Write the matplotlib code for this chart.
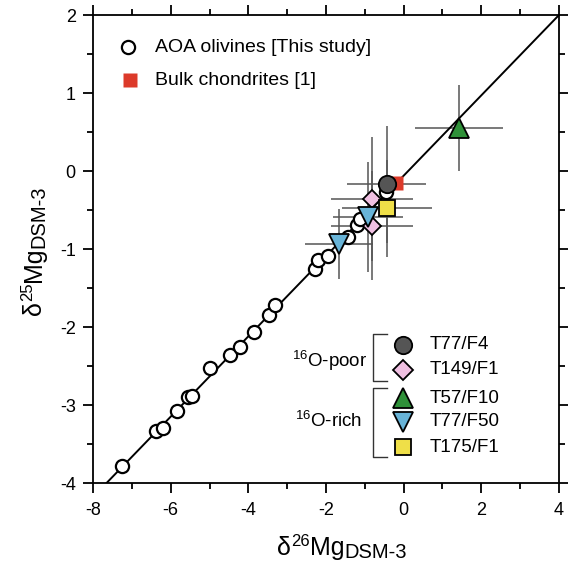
import matplotlib
matplotlib.use("Agg")
import matplotlib.pyplot as plt
from matplotlib.ticker import MultipleLocator

plt.rcParams['font.family'] = ['Liberation Sans', 'DejaVu Sans']
plt.rcParams['mathtext.fontset'] = 'custom'
plt.rcParams['mathtext.rm'] = 'Liberation Sans'
plt.rcParams['mathtext.it'] = 'Liberation Sans:italic'
plt.rcParams['mathtext.bf'] = 'Liberation Sans:bold'
plt.rcParams['axes.unicode_minus'] = False

# ---- data ----
aoa_d26 = [-7.26, -6.39, -6.19, -5.84, -5.56, -5.46, -5.00, -4.47, -4.21, -3.85,
           -3.46, -3.31, -2.28, -2.20, -1.95, -1.43, -1.20, -1.12, -0.45]
aoa_d25 = [-3.78, -3.33, -3.29, -3.08, -2.90, -2.89, -2.52, -2.36, -2.26, -2.06,
           -1.85, -1.72, -1.25, -1.14, -1.09, -0.85, -0.69, -0.62, -0.27]

bulk_d26 = [-0.20]
bulk_d25 = [-0.15]

# T77/F4
f4_d26 = [-0.44]; f4_d25 = [-0.17]; f4_xerr = [1.02]; f4_yerr = [0.75]
# T149/F1
f149_d26 = [-0.82, -0.82]; f149_d25 = [-0.36, -0.70]; f149_xerr = [1.05, 1.06]; f149_yerr = [0.80, 0.70]
# T57/F10
f57_d26 = [1.43]; f57_d25 = [0.55]; f57_xerr = [1.14]; f57_yerr = [0.55]
# T77/F50
f50_d26 = [-1.66, -0.91]; f50_d25 = [-0.94, -0.59]; f50_xerr = [0.88, 0.90]; f50_yerr = [0.45, 0.70]
# T175/F1
f175_d26 = [-0.44]; f175_d25 = [-0.48]; f175_xerr = [1.16]; f175_yerr = [0.62]

line_slope = 0.515
line_intercept = -0.06

x_ticks = [-8, -6, -4, -2, 0, 2, 4]
y_ticks = [-4, -3, -2, -1, 0, 1, 2]

# ---- figure ----
fig = plt.figure(figsize=(5.68, 5.66), dpi=100)
ax = fig.add_axes([93/568, 1-483/566, 466/568, 468/566])
ax.set_xlim(-8, 4)
ax.set_ylim(-4, 2)

ecol = '#555555'
for xs, ys, xe, ye in [(f4_d26, f4_d25, f4_xerr, f4_yerr),
                       (f149_d26, f149_d25, f149_xerr, f149_yerr),
                       (f57_d26, f57_d25, f57_xerr, f57_yerr),
                       (f50_d26, f50_d25, f50_xerr, f50_yerr),
                       (f175_d26, f175_d25, f175_xerr, f175_yerr)]:
    ax.errorbar(xs, ys, xerr=xe, yerr=ye, fmt='none', ecolor=ecol,
                elinewidth=1.1, capsize=0, zorder=1)

ax.axline((0, line_intercept), slope=line_slope, color='black', lw=1.4, zorder=2)

ax.plot(bulk_d26, bulk_d25, 's', ms=10.5, color='#dc3a2a', mec='none', zorder=3)
ax.plot(aoa_d26, aoa_d25, 'o', ms=9.5, mfc='white', mec='black', mew=1.6, ls='none', zorder=4)

mk = dict(mec='black', mew=1.3, ls='none', zorder=5)
ax.plot(f149_d26, f149_d25, 'D', ms=9.5, mfc='#f0c0e2', **mk)
ax.plot(f50_d26, f50_d25, 'v', ms=14, mfc='#68b4d8', **mk)
ax.plot(f175_d26, f175_d25, 's', ms=11, mfc='#efdf48', **mk)
ax.plot(f4_d26, f4_d25, 'o', ms=12.5, mfc='#555555', **mk)
ax.plot(f57_d26, f57_d25, '^', ms=14, mfc='#2f9139', **mk)

# ---- axes styling ----
for s in ax.spines.values():
    s.set_linewidth(1.3)
ax.set_xticks(x_ticks)
ax.set_yticks(y_ticks)
ax.xaxis.set_minor_locator(MultipleLocator(1))
ax.yaxis.set_minor_locator(MultipleLocator(0.5))
ax.tick_params(which='both', direction='out', top=True, right=True, width=1.3, labelsize=13)
ax.tick_params(which='major', length=7.5)
ax.tick_params(which='minor', length=4)
ax.tick_params(axis='x', pad=6)
ax.tick_params(axis='y', pad=5)

# ---- compound axis labels (pixel placement) ----
renderer = fig.canvas.get_renderer()
def px(v):
    return v / fig.dpi

def compound_label(pieces, cx, cy, rotation=0):
    widths = []
    for s, size, dy in pieces:
        t = fig.text(0, 0, s, fontsize=size)
        widths.append(t.get_window_extent(renderer).width)
        t.remove()
    W = sum(widths)
    pos = -W / 2
    for (s, size, dy), w in zip(pieces, widths):
        if rotation == 0:
            x, y = cx + pos, cy + dy
        else:
            x, y = cx - dy, cy + pos
        fig.text(px(x), px(y), s, fontsize=size, ha='left', va='baseline',
                 rotation=rotation, rotation_mode='anchor',
                 transform=fig.dpi_scale_trans)
        pos += w

lab_x = [('δ', 18, 0), ('26', 12, 9), ('Mg', 18, 0), ('DSM-3', 14.5, -3)]
lab_y = [('δ', 18, 0), ('25', 12, 9), ('Mg', 18, 0), ('DSM-3', 14.5, -3)]
compound_label(lab_x, 342, 566 - 555, 0)
compound_label(lab_y, 41, 566 - 250, 90)

# ---- top legend ----
T = ax.transAxes
ax.plot([0.0751], [0.9316], 'o', ms=9.5, mfc='white', mec='black', mew=1.6, transform=T, clip_on=False)
ax.text(0.133, 0.9316, 'AOA olivines [This study]', transform=T, fontsize=14, va='center', ha='left')
ax.plot([0.0794], [0.8611], 's', ms=10.5, color='#dc3a2a', mec='none', transform=T)
ax.text(0.133, 0.8611, 'Bulk chondrites [1]', transform=T, fontsize=14, va='center', ha='left')

# ---- lower legend ----
leg_items = [('o', '#555555', 12.5, 'T77/F4'),
             ('D', '#f0c0e2', 10, 'T149/F1'),
             ('^', '#2f9139', 14, 'T57/F10'),
             ('v', '#68b4d8', 14, 'T77/F50'),
             ('s', '#efdf48', 11, 'T175/F1')]
leg_y = [0.2949, 0.2415, 0.1816, 0.1310, 0.0769]
for (m, c, s, lab), yy in zip(leg_items, leg_y):
    ax.plot([0.665], [yy], m, ms=s, mfc=c, mec='black', mew=1.3, transform=T)
    ax.text(0.723, yy, lab, transform=T, fontsize=13.5, va='center', ha='left')

bk = dict(color='#333333', lw=1.0, transform=T)
ax.plot([0.631, 0.601, 0.601, 0.631], [0.3184, 0.3184, 0.2179, 0.2179], **bk)
ax.plot([0.631, 0.601, 0.601, 0.631], [0.2030, 0.2030, 0.0556, 0.0556], **bk)
ax.text(0.588, 0.2607, r'$^{\mathregular{16}}$O-poor', transform=T, fontsize=13.5, va='center', ha='right')
ax.text(0.577, 0.1325, r'$^{\mathregular{16}}$O-rich', transform=T, fontsize=13.5, va='center', ha='right')

fig.savefig('out.png', dpi=100)
